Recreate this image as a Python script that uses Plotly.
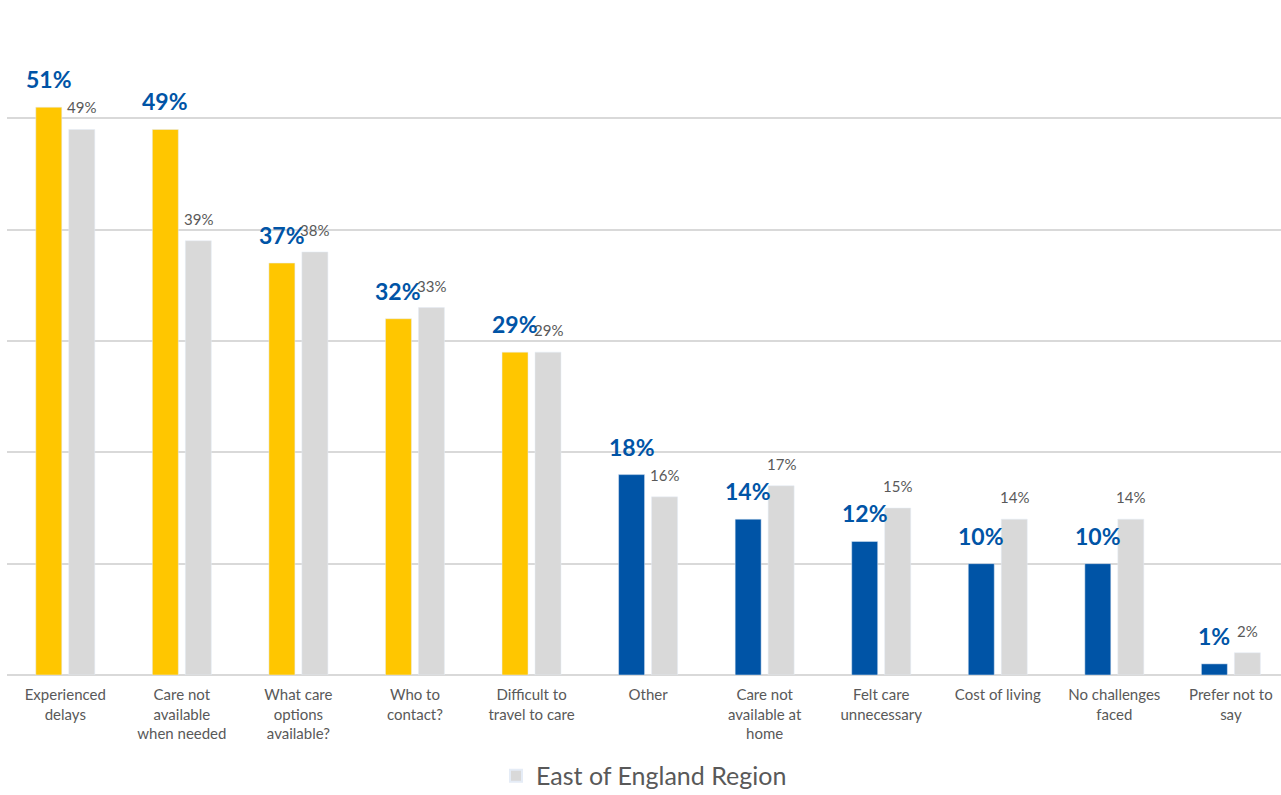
import plotly.graph_objects as go

categories = [
    "Experienced<br>delays",
    "Care not<br>available<br>when needed",
    "What care<br>options<br>available?",
    "Who to<br>contact?",
    "Difficult to<br>travel to care",
    "Other",
    "Care not<br>available at<br>home",
    "Felt care<br>unnecessary",
    "Cost of living",
    "No challenges<br>faced",
    "Prefer not to<br>say",
]
local_values = [51, 49, 37, 32, 29, 18, 14, 12, 10, 10, 1]
region_values = [49, 39, 38, 33, 29, 16, 17, 15, 14, 14, 2]
region_name = "East of England Region"

YELLOW = "#FFC600"
BLUE = "#0054A6"
GREY = "#D9D9D9"
TEXT = "#595959"
FONT = "Lato"

idx = list(range(len(categories)))
local_colors = [YELLOW if i < 5 else BLUE for i in idx]

fig = go.Figure()
fig.add_trace(go.Bar(
    x=idx, y=local_values, marker_color=local_colors,
    name="Local", showlegend=False,
))
fig.add_trace(go.Bar(
    x=idx, y=region_values, marker_color=GREY,
    name=region_name, showlegend=True,
))

BARGAP = 0.434
GROUPGAP = 0.212
slot = (1 - BARGAP) / 2
off = slot / 2

for i in idx:
    fig.add_annotation(
        x=i - off, y=local_values[i], text=f"{local_values[i]}%",
        showarrow=False, yanchor="bottom", yshift=12,
        font=dict(family=FONT, size=23, color=BLUE, weight="bold"),
    )
    fig.add_annotation(
        x=i + off, y=region_values[i], text=f"{region_values[i]}%",
        showarrow=False, yanchor="bottom", yshift=11,
        font=dict(family=FONT, size=15, color=TEXT),
    )

fig.update_layout(
    width=1281, height=795,
    margin=dict(l=7, r=0, t=7, b=120, autoexpand=False),
    barmode="group", bargap=BARGAP, bargroupgap=GROUPGAP,
    plot_bgcolor="white", paper_bgcolor="white",
    font=dict(family=FONT, color=TEXT),
    legend=dict(
        orientation="h", x=0.5, xanchor="center",
        yref="container", y=0.024, yanchor="middle",
        font=dict(size=25, color=TEXT), itemsizing="constant",
    ),
)
fig.update_xaxes(
    range=[-0.5, 10.43], tickmode="array", tickvals=idx, ticktext=categories,
    tickfont=dict(size=15, color=TEXT), showgrid=False, zeroline=False,
    showline=False, ticks="", automargin=False, ticklabelstandoff=9,
)
fig.update_yaxes(
    range=[0, 60], dtick=10, showticklabels=False,
    showgrid=True, gridcolor=GREY, gridwidth=2,
    zeroline=True, zerolinecolor=GREY, zerolinewidth=2, automargin=False,
)

fig.write_html("out.html")
